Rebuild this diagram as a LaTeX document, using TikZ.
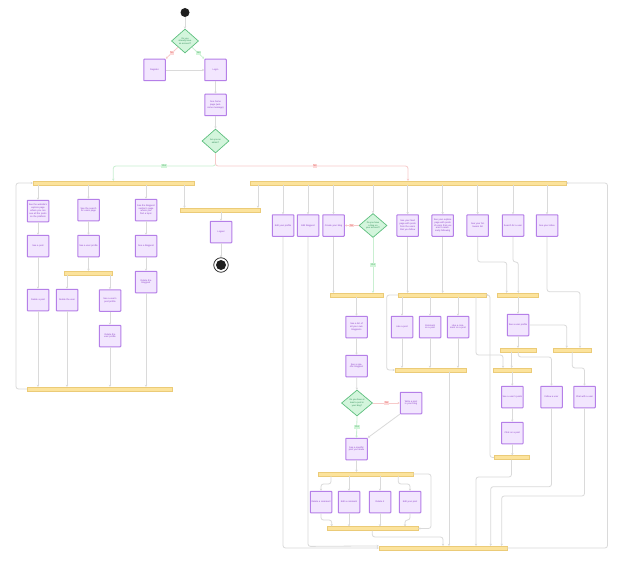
\documentclass[tikz,border=0pt]{standalone}
\usepackage{fontspec}
\setmainfont{Liberation Sans}
\usetikzlibrary{shapes.geometric,arrows.meta}
\definecolor{boxfill}{HTML}{F2E6FE}
\definecolor{boxdraw}{HTML}{B57FE8}
\definecolor{boxtext}{HTML}{8A3FC7}
\definecolor{decfill}{HTML}{D3F5DC}
\definecolor{decdraw}{HTML}{5DBF7E}
\definecolor{dectext}{HTML}{2E8B57}
\definecolor{barfill}{HTML}{FCE39C}
\definecolor{bardraw}{HTML}{EBCB78}
\definecolor{lgray}{HTML}{DADADA}
\definecolor{ygreen}{HTML}{C9EFD1}
\definecolor{nred}{HTML}{F7CACA}
\definecolor{ylabfill}{HTML}{D2F5D9}
\definecolor{ylabtext}{HTML}{3CA35B}
\definecolor{nlabfill}{HTML}{FCD8D8}
\definecolor{nlabtext}{HTML}{E0524F}
\begin{document}
\begin{tikzpicture}[x=1pt,y=-1pt,
 box/.style={rectangle, draw=boxdraw, fill=boxfill, line width=1pt, rounded corners=0.6pt, minimum width=21.5pt, minimum height=21.5pt, inner sep=0pt, text width=19.5pt, align=center, font=\fontsize{2.3}{2.8}\selectfont, text=boxtext},
 dec/.style={diamond, draw=decdraw, fill=decfill, line width=0.7pt, minimum width=27pt, minimum height=24pt, inner sep=0pt, align=center, font=\fontsize{2.2}{2.7}\selectfont, text=dectext},
 bar/.style={rectangle, draw=bardraw, fill=barfill, line width=0.4pt, minimum height=3.8pt, inner sep=0pt},
 conn/.style={draw=lgray, line width=0.8pt, -{Stealth[length=2.2pt,width=2.4pt]}, rounded corners=2.5pt},
 yconn/.style={conn, draw=ygreen},
 nconn/.style={conn, draw=nred},
 ylab/.style={fill=ylabfill, text=ylabtext, font=\fontsize{2.4}{2.8}\selectfont, inner sep=0.9pt},
 nlab/.style={fill=nlabfill, text=nlabtext, font=\fontsize{2.4}{2.8}\selectfont, inner sep=0.9pt},
]
\fill[white] (0,0) rectangle (624,567);
\useasboundingbox (0,0) rectangle (624,567);

% ---------- top ----------
\node[circle, fill=black!88, minimum size=9pt, inner sep=0pt] (start) at (185,12.5) {};
\node[dec] (d1) at (185,41) {Do you\\already have\\an account?};
\node[box] (reg) at (154.5,70) {Register};
\node[box] (login) at (215.5,70) {Login};
\node[box] (home) at (215.5,105) {See home page (welcome message)};
\node[dec] (d2) at (215.5,141) {Are you an\\admin?};

% ---------- admin ----------
\node[bar, minimum width=161pt] (fk1) at (113.5,183) {};
\node[box] (a1) at (38,211) {See the website's explore page where you can see all the posts on the platform};
\node[box] (a2) at (38,246) {See a post};
\node[box] (a3) at (38,300) {Delete a post};
\node[box] (b1) at (88.5,210) {See the search for users page};
\node[box] (b2) at (88.5,246) {See a user profile};
\node[bar, minimum width=48pt] (fb) at (88.5,273) {};
\node[box] (b3) at (67,300) {Delete the user};
\node[box] (b4) at (110,300.5) {See a user's post profile};
\node[box] (b5) at (110,336) {Delete the user profile};
\node[box] (c1) at (146,210) {See the blogpost section's page where you find a topic};
\node[box] (c2) at (146,246) {See a blogpost};
\node[box] (c3) at (146,282) {Delete the blogpost};
\node[bar, minimum width=145pt] (join1) at (99.5,389) {};
\node[bar, minimum width=80pt] (lbar) at (220.5,210) {};
\node[box] (logout) at (221,232) {Logout};
\node[circle, draw=black!88, line width=0.7pt, fill=white, minimum size=14.5pt, inner sep=0pt,
  path picture={\fill[black!88] (path picture bounding box.center) circle (5pt);}] (end) at (221,265) {};

% ---------- user ----------
\node[bar, minimum width=316pt] (fk2) at (408,183) {};
\node[box] (A) at (283,225.5) {Edit your profile};
\node[box] (B) at (308,225.5) {Edit blogpost};
\node[box] (C) at (333.5,225.5) {Create your blog};
\node[dec, minimum width=28pt] (D) at (373,225.5) {Do you have\\a blog on\\your account?};
\node[box] (E) at (407.7,225.5) {See your feed page with posts from the users that you follow};
\node[box] (F) at (442.7,225.5) {See your explore page with posts of users that you aren't necessarily following};
\node[box] (G) at (477.7,225.5) {See your followers list};
\node[box] (H) at (513,225.5) {Search for a user};
\node[box] (I) at (547,225.5) {See your inbox};

\node[bar, minimum width=53pt] (bar3) at (356.5,295) {};
\node[bar, minimum width=88pt] (bar4) at (442,295) {};
\node[bar, minimum width=41pt] (bar5) at (517.5,295) {};

\node[box] (blog1) at (356.5,327) {See a list of all your own blogposts};
\node[box] (blog2) at (356.5,366) {See a specific blogpost};
\node[dec, minimum width=31pt, minimum height=26pt] (d3) at (357,403) {Do you have at\\least a post in\\your blog?};
\node[box] (write) at (411,403) {Write a post in your blog};
\node[box] (mypost) at (356.5,449) {See a specific post you made};
\node[bar, minimum width=95pt] (bar6) at (365.5,474) {};
\node[box] (k1) at (321,502) {Delete a comment};
\node[box] (k2) at (349,502) {Edit a comment};
\node[box] (k3) at (380,502) {Delete it};
\node[box] (k4) at (410,502) {Edit your post};
\node[bar, minimum width=91pt] (bar7) at (372.5,528.5) {};

\node[box] (like) at (402,327) {Like a post};
\node[box] (comm) at (430,327) {Comment on a post};
\node[box] (likec) at (458,327) {Like a comment on a post};
\node[bar, minimum width=71pt] (bar8) at (430.5,370) {};

\node[box] (usr) at (518,325) {See a user profile};
\node[bar, minimum width=36pt] (bar9) at (518,350) {};
\node[bar, minimum width=38pt] (bar10) at (572,350) {};
\node[bar, minimum width=38pt] (bar11) at (512,370) {};
\node[box] (posts) at (512.3,397) {See a user's posts};
\node[box] (click) at (512.3,433) {Click on a post};
\node[bar, minimum width=35pt] (bar12) at (511.5,457.5) {};
\node[box] (follow) at (551.5,397) {Follow a user};
\node[box] (chat) at (584.5,397) {Chat with a user};
\node[bar, minimum width=128pt] (final) at (443,548) {};

% ---------- connectors: top ----------
\draw[conn] (start) -- (d1);
\draw[nconn] (d1.south west) -- (reg.north east);
\draw[yconn] (d1.south east) -- (login.north west);
\draw[conn] (reg) -- (login);
\draw[conn] (login) -- (home);
\draw[conn] (home) -- (d2);
\draw[yconn] (d2.south) -- (215.5,166) -- (113.3,166) -- (113.3,0 |- fk1.north);
\draw[nconn] (d2.south) -- (215.5,166) -- (408,166) -- (408,0 |- fk2.north);

% ---------- connectors: admin ----------
\foreach \n in {a1,b1,c1} \draw[conn] (\n.north |- fk1.south) -- (\n.north);
\draw[conn] (184.5,0 |- fk1.south) -- (184.5,0 |- lbar.north);
\draw[conn] (a1) -- (a2);
\draw[conn] (a2) -- (a3);
\draw[conn] (a3.south) -- (a3.south |- join1.north);
\draw[conn] (b1) -- (b2);
\draw[conn] (b2.south) -- (b2.south |- fb.north);
\draw[conn] (b3.north |- fb.south) -- (b3.north);
\draw[conn] (b4.north |- fb.south) -- (b4.north);
\draw[conn] (b4) -- (b5);
\draw[conn] (b3.south) -- (b3.south |- join1.north);
\draw[conn] (b5.south) -- (b5.south |- join1.north);
\draw[conn] (c1) -- (c2);
\draw[conn] (c2) -- (c3);
\draw[conn] (c3.south) -- (c3.south |- join1.north);
\draw[conn] (join1.west) -- (16,389) -- (16,183) -- (fk1.west);

% ---------- connectors: logout ----------
\draw[conn] (258,0 |- fk2.south) -- (258,0 |- lbar.north);
\draw[conn] (logout.north |- lbar.south) -- (logout.north);
\draw[conn] (logout) -- (end);

% ---------- connectors: user ----------
\foreach \n in {A,B,C,D,E,F,G,H,I} \draw[conn] (\n.north |- fk2.south) -- (\n.north);
\draw[conn] (A.south) -- (283,548) -- (final.west);
\draw[conn] (B.south) -- (308,546.4) -- (final.north west);
\draw[conn] (C.south) -- (C.south |- bar3.north);
\draw[nconn] (D.west) -- (C.east);
\draw[yconn] (D.south) -- (D.south |- bar3.north);
\draw[conn] (E.south) -- (E.south |- bar4.north);
\draw[conn] (F.south) -- (F.south |- bar4.north);
\draw[conn] (G.south) -- (477.7,262) -- (506.7,262) -- (506.7,0 |- bar5.north);
\draw[conn] (H.south) -- (513,262) -- (518.3,262) -- (518.3,0 |- bar5.north);
\draw[conn] (I.south) -- (547,291.7) -- (580,291.7) -- (580,0 |- bar10.north);

% blog
\draw[conn] (bar3.south) -- (blog1.north);
\draw[conn] (blog1) -- (blog2);
\draw[conn] (blog2) -- (d3);
\draw[nconn] (d3.east) -- (write.west);
\draw[yconn] (d3.south) -- (mypost.north);
\draw[conn] (write.south west) -- (mypost.north east);
\draw[conn] (mypost.south) -- (mypost.south |- bar6.north);
\draw[conn] (331,0 |- bar6.south) -- (331,484) -- (321,484) -- (k1.north);
\draw[conn] (k2.north |- bar6.south) -- (k2.north);
\draw[conn] (k3.north |- bar6.south) -- (k3.north);
\draw[conn] (398.3,0 |- bar6.south) -- (398.3,484) -- (410,484) -- (k4.north);
\draw[conn] (bar6.east) -- (431,474) -- (431,528.5) -- (bar7.east);
\draw[conn] (k1.south) -- (321,520) -- (331.7,520) -- (331.7,0 |- bar7.north);
\draw[conn] (k2.south) -- (k2.south |- bar7.north);
\draw[conn] (k3.south) -- (k3.south |- bar7.north);
\draw[conn] (k4.south) -- (410,520) -- (405,520) -- (405,0 |- bar7.north);
\draw[conn] (372.3,0 |- bar7.south) -- (372.3,537) -- (443,537) -- (final.north);

% feed / explore
\draw[conn] (bar4.west) -- (386.7,295) -- (386.7,370) -- (bar8.west);
\draw[conn] (like.north |- bar4.south) -- (like.north);
\draw[conn] (comm.north |- bar4.south) -- (comm.north);
\draw[conn] (likec.north |- bar4.south) -- (likec.north);
\draw[conn] (like.south) -- (like.south |- bar8.north);
\draw[conn] (comm.south) -- (comm.south |- bar8.north);
\draw[conn] (likec.south) -- (likec.south |- bar8.north);
\draw[conn] (476,0 |- bar4.south) -- (476,355) -- (503,355) -- (503,0 |- bar11.north);
\draw[conn] (449,0 |- bar8.south) -- (449,0 |- final.north);

% users
\draw[conn] (usr.north |- bar5.south) -- (usr.north);
\draw[conn] (usr.east) -- (566.7,325) -- (566.7,0 |- bar10.north);
\draw[conn] (usr.south) -- (usr.south |- bar9.north);
\draw[conn] (511.7,0 |- bar9.south) -- (511.7,0 |- bar11.north);
\draw[conn] (518.3,0 |- bar9.south) -- (518.3,357) -- (551.5,357) -- (follow.north);
\draw[conn] (572.3,0 |- bar10.south) -- (572.3,368) -- (584.5,368) -- (chat.north);
\draw[conn] (posts.north |- bar11.south) -- (posts.north);
\draw[conn] (posts) -- (click);
\draw[conn] (click.south) -- (click.south |- bar12.north);
\draw[conn] (bar12.west) -- (490,457.5) -- (490,295) -- (bar4.east);
\draw[conn] (bar12.south) -- (511.5,477) -- (476,477) -- (476,0 |- final.north);
\draw[conn] (follow.south) -- (551.5,486.7) -- (490.7,486.7) -- (490.7,0 |- final.north);
\draw[conn] (chat.south) -- (584.5,496) -- (501.7,496) -- (501.7,0 |- final.north);
\draw[conn] (final.east) -- (607.5,548) -- (607.5,183) -- (fk2.east);

% ---------- labels ----------
\node[nlab] (no1) at (172,53) {No};
\node[ylab] (yes1) at (198.5,53) {Yes};
\node[ylab] (yes2) at (164,166) {Yes};
\node[nlab] (no2) at (315,166) {No};
\node[nlab] (no3) at (351.7,225.5) {No};
\node[ylab] (yes3) at (373,265) {Yes};
\node[nlab] (no4) at (386.7,403) {No};
\node[ylab] (yes4) at (357,427) {Yes};
\end{tikzpicture}
\end{document}
